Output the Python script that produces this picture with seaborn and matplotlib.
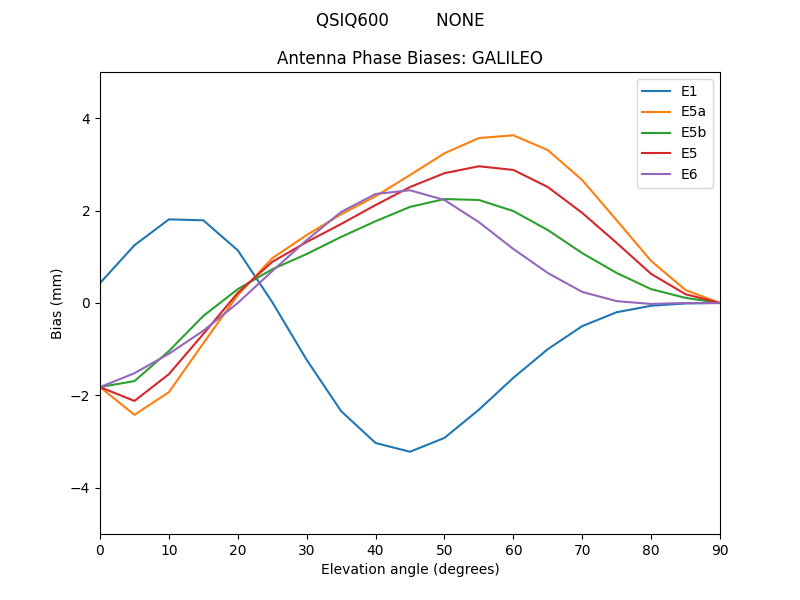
import matplotlib
matplotlib.use("Agg")
import matplotlib.pyplot as plt
import seaborn as sns
import pandas as pd

elev = [0, 5, 10, 15, 20, 25, 30, 35, 40, 45, 50, 55, 60, 65, 70, 75, 80, 85, 90]
E1 = [0.43, 1.25, 1.81, 1.79, 1.14, 0.02, -1.23, -2.34, -3.03, -3.22, -2.92, -2.31, -1.62, -1.0, -0.5, -0.2, -0.06, -0.01, 0.0]
E5a = [-1.82, -2.42, -1.93, -0.87, 0.17, 0.97, 1.47, 1.92, 2.31, 2.77, 3.24, 3.57, 3.63, 3.31, 2.66, 1.79, 0.91, 0.28, 0.0]
E5b = [-1.82, -1.69, -1.04, -0.28, 0.30, 0.73, 1.06, 1.43, 1.77, 2.08, 2.25, 2.23, 1.99, 1.58, 1.08, 0.65, 0.30, 0.11, 0.0]
E5 = [-1.82, -2.12, -1.54, -0.67, 0.22, 0.89, 1.32, 1.71, 2.12, 2.51, 2.81, 2.96, 2.88, 2.51, 1.95, 1.30, 0.63, 0.19, 0.0]
E6 = [-1.82, -1.52, -1.10, -0.60, 0.0, 0.69, 1.36, 1.97, 2.36, 2.44, 2.23, 1.75, 1.17, 0.65, 0.24, 0.04, -0.02, 0.0, 0.0]

series = {"E1": E1, "E5a": E5a, "E5b": E5b, "E5": E5, "E6": E6}
rows = []
for name, vals in series.items():
    for x, v in zip(elev, vals):
        rows.append({"elev": x, "bias": v, "signal": name})
df = pd.DataFrame(rows)

fig, ax = plt.subplots(figsize=(8, 6), dpi=100)
sns.lineplot(data=df, x="elev", y="bias", hue="signal", ax=ax,
             palette=["#1f77b4", "#ff7f0e", "#2ca02c", "#d62728", "#9467bd"])
ax.set_xlim(0, 90)
ax.set_ylim(-5, 5)
ax.set_xlabel("Elevation angle (degrees)")
ax.set_ylabel("Bias (mm)")
ax.set_title("Antenna Phase Biases: GALILEO")
fig.suptitle("QSIQ600         NONE")
ax.legend(loc="upper right")
fig.savefig("out.png", dpi=100)
